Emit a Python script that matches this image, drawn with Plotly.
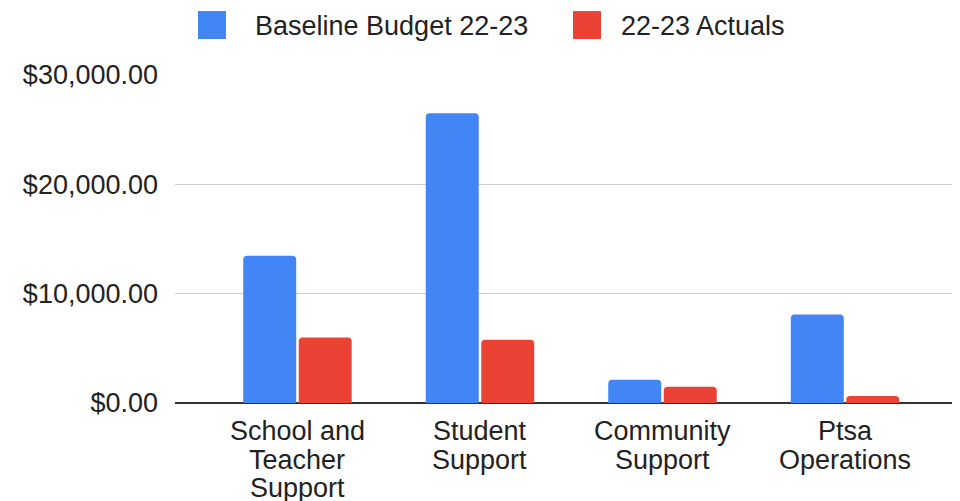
import plotly.graph_objects as go

# ---- data ----
categories = ["School and Teacher Support", "Student Support", "Community Support", "Ptsa Operations"]
category_label_lines = [["School and", "Teacher", "Support"],
                        ["Student", "Support"],
                        ["Community", "Support"],
                        ["Ptsa", "Operations"]]
series_names = ["Baseline Budget 22-23", "22-23 Actuals"]
baseline_budget = [13460, 26500, 2130, 8100]
actuals = [6000, 5790, 1490, 640]
y_tick_values = [0, 10000, 20000, 30000]
y_tick_labels = ["$" + f"{v:,.2f}" for v in y_tick_values]

# ---- layout constants (page pixels; the html body adds an 8px margin) ----
OFF = 8
W, H = 960 - OFF, 501 - OFF
PAGE_L, PAGE_T, PAGE_B = 175, 75, 403.3
ML = PAGE_L - OFF
MT = PAGE_T - OFF
MB = H - (PAGE_B - OFF)
MR = 0
PW, PH = W - ML - MR, H - MT - MB
BLUE, RED = "#4285F4", "#EA4335"
FONT = "Liberation Sans, Arial, sans-serif"
TXT = "#222222"
FS = 27


def px_x(page_px):
    return (page_px - OFF - ML) / PW


def px_y(page_py):
    return (H - MB - (page_py - OFF)) / PH


fig = go.Figure()
fig.add_trace(go.Bar(x=categories, y=baseline_budget, name=series_names[0],
                     marker=dict(color=BLUE, line=dict(width=0)), showlegend=False))
fig.add_trace(go.Bar(x=categories, y=actuals, name=series_names[1],
                     marker=dict(color=RED, line=dict(width=0)), showlegend=False))

annotations = []
# category labels, line by line
line_centers = [431.5, 460, 488.5]
for cat, lines in zip(categories, category_label_lines):
    for i, ln in enumerate(lines):
        annotations.append(dict(x=cat, xref="x", y=px_y(line_centers[i]), yref="paper",
                                text=ln, showarrow=False, xanchor="center", yanchor="middle",
                                font=dict(family=FONT, size=FS, color=TXT)))

# custom legend
shapes = []
legend_items = [(198, 253, BLUE, series_names[0]), (573, 619, RED, series_names[1])]
for sq_x, tx, col, name in legend_items:
    shapes.append(dict(type="rect", xref="paper", yref="paper",
                       x0=px_x(sq_x), x1=px_x(sq_x + 28), y0=px_y(39), y1=px_y(11),
                       fillcolor=col, line=dict(width=0), layer="above"))
    annotations.append(dict(x=px_x(tx), y=px_y(25.5), xref="paper", yref="paper",
                            text=name, showarrow=False, xanchor="left", yanchor="middle",
                            font=dict(family=FONT, size=FS, color=TXT)))

fig.update_layout(
    width=W, height=H,
    margin=dict(l=ML, r=MR, t=MT, b=MB, pad=0),
    paper_bgcolor="white", plot_bgcolor="white",
    barmode="group", bargap=0.392, bargroupgap=0.045, barcornerradius=4,
    font=dict(family=FONT, size=FS, color=TXT),
    showlegend=False,
    xaxis=dict(type="category", range=[-0.671, 3.630], showticklabels=False,
               showgrid=False, zeroline=False, showline=False, ticks="", fixedrange=True),
    yaxis=dict(range=[0, 30000], tickvals=y_tick_values, ticktext=y_tick_labels,
               showgrid=True, gridcolor="#cccccc", gridwidth=1,
               zeroline=True, zerolinecolor="#333333", zerolinewidth=2,
               showline=False, ticks="", ticklabelstandoff=16,
               tickfont=dict(family=FONT, size=FS, color=TXT)),
    annotations=annotations,
    shapes=shapes,
)

fig.write_html("out.html")
